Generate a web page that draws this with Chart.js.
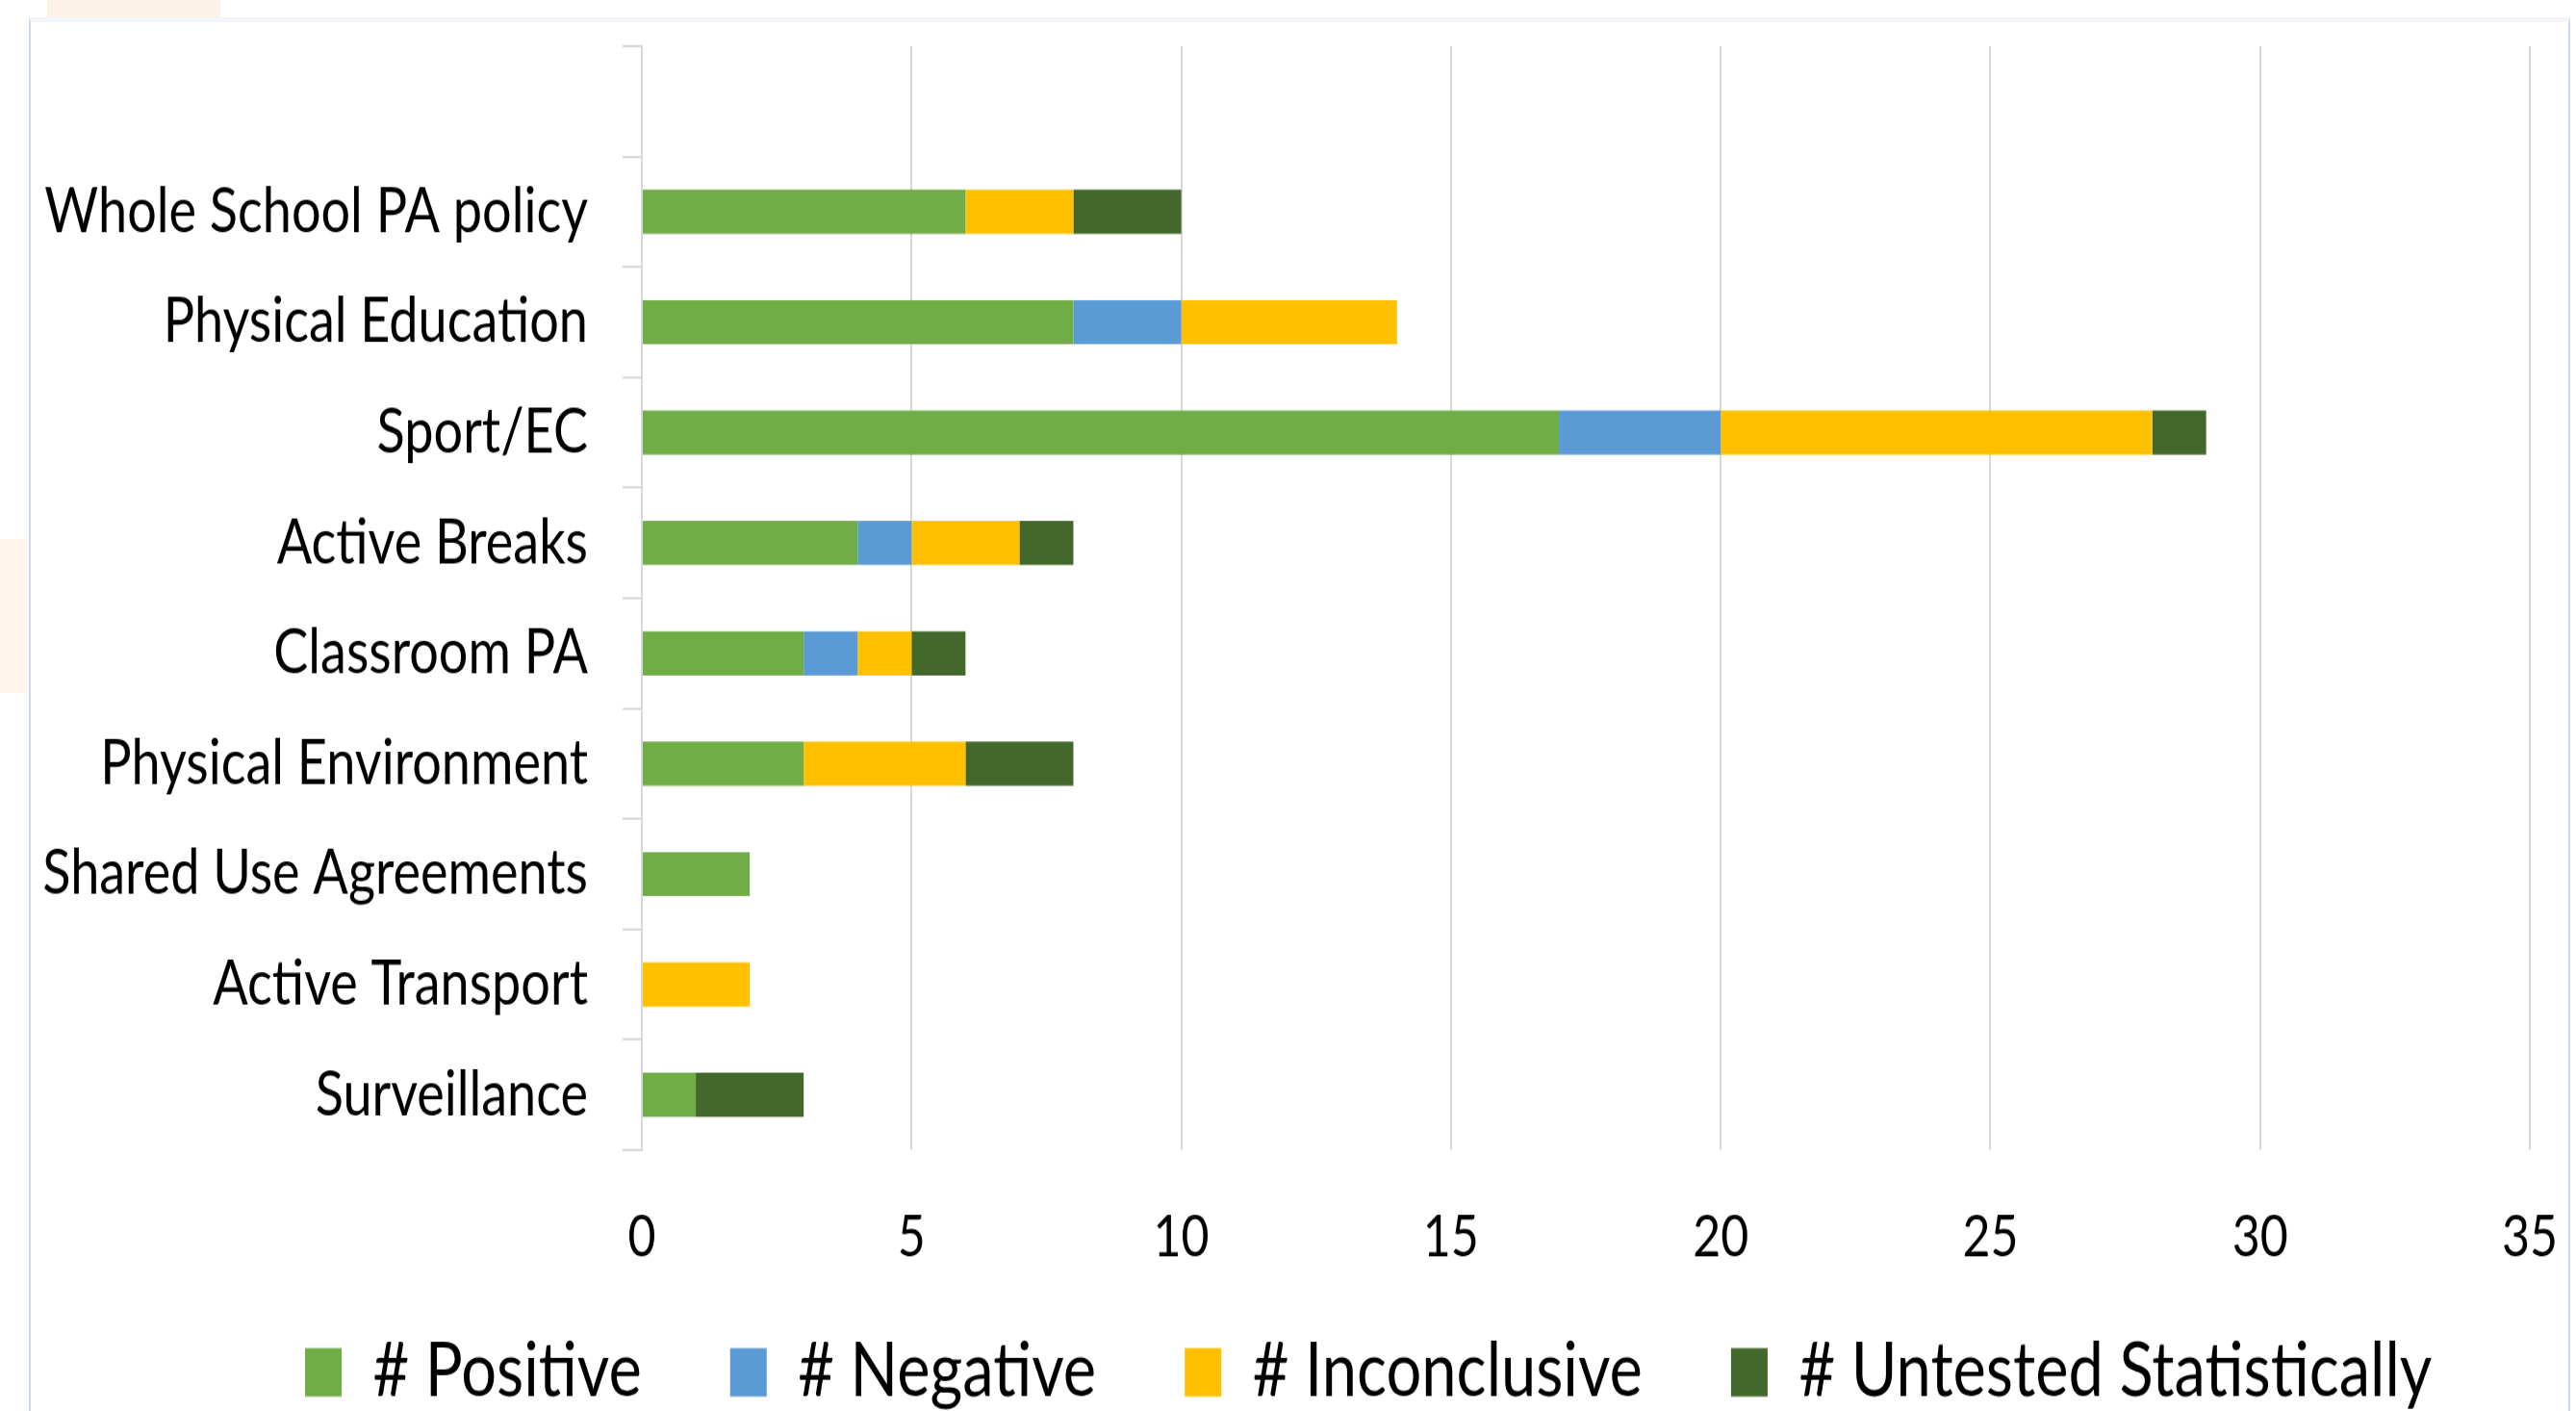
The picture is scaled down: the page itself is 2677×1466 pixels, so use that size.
<!DOCTYPE html>
<html>
<head>
<meta charset="utf-8">
<title>PA intervention outcomes</title>
<script src="https://cdn.jsdelivr.net/npm/chart.js@4.4.1/dist/chart.umd.min.js"></script>
<style>
  html, body { margin: 0; padding: 0; background: #fff; overflow: hidden; }
  body { width: 2677px; height: 1466px; position: relative; }
  .blob { position: absolute; background: #fdf2e6; }
  .blob.top { left: 49px; top: 0; width: 180px; height: 18px; }
  .blob.side { left: 0; top: 560px; width: 30px; height: 160px; opacity: 0.7; }
  .frame {
    position: absolute; left: 30px; top: 18px; width: 2641px; height: 1460px;
    border-left: 2px solid #cdd8ef; border-right: 2px solid #cdd8ef; border-top: 5px solid #f4f5fa;
    box-sizing: border-box;
  }
  /* the source picture is stretched vertically, so the chart is drawn short and scaled up */
  #wrap {
    position: absolute; left: 0; top: 0; width: 2677px; height: 1222px;
    transform: scale(1, 1.19967); transform-origin: 0 0;
  }
</style>
</head>
<body>
<div class="blob top"></div>
<div class="blob side"></div>
<div class="frame"></div>
<div id="wrap"><canvas id="chart"></canvas></div>
<script>
  // first row is an empty category, as in the source sheet
  const categories = ['', 'Whole School PA policy', 'Physical Education', 'Sport/EC', 'Active Breaks',
    'Classroom PA', 'Physical Environment', 'Shared Use Agreements', 'Active Transport', 'Surveillance'];
  const positive     = [null, 6, 8, 17, 4, 3, 3, 2, 0, 1];
  const negative     = [null, 0, 2, 3, 1, 1, 0, 0, 0, 0];
  const inconclusive = [null, 2, 4, 8, 2, 1, 3, 0, 2, 0];
  const untested     = [null, 2, 0, 1, 1, 1, 2, 0, 0, 2];
  const xTicks = [0, 5, 10, 15, 20, 25, 30, 35];

  const gridColor = '#D9D9D9';
  const fontFamily = 'Lato, "Open Sans", sans-serif';
  const legendGap = 92;

  function series(label, data, color) {
    return { label: label, data: data, backgroundColor: color, borderWidth: 0,
      barPercentage: 0.4, categoryPercentage: 1 };
  }

  // the legend sits a little right of the canvas centre and close under the axis labels
  const legendPlace = {
    id: 'legendPlace',
    afterLayout(chart) {
      const lg = chart.legend;
      const dx = (317 - legendGap) - lg.left;
      lg.left += dx;
      lg.right += dx;
      lg.top = 1156 - legendGap;
      lg.bottom = chart.height;
      lg.height = lg.bottom - lg.top;
    }
  };

  const ctx = document.getElementById('chart').getContext('2d');
  new Chart(ctx, {
    type: 'bar',
    data: {
      labels: categories,
      datasets: [
        series('# Positive', positive, '#70AD47'),
        series('# Negative', negative, '#5B9BD5'),
        series('# Inconclusive', inconclusive, '#FFC000'),
        series('# Untested Statistically', untested, '#43682B')
      ]
    },
    plugins: [legendPlace],
    options: {
      indexAxis: 'y',
      responsive: true,
      maintainAspectRatio: false,
      devicePixelRatio: 1,
      animation: false,
      layout: { padding: { left: 30, right: 48, top: 40, bottom: 0 } },
      plugins: {
        tooltip: { enabled: false },
        legend: {
          position: 'bottom',
          align: 'start',
          maxHeight: 126,
          labels: {
            boxWidth: 38,
            boxHeight: 42,
            padding: legendGap,
            color: '#000',
            font: { family: fontFamily, size: 65 }
          }
        }
      },
      scales: {
        x: {
          stacked: true,
          min: 0,
          max: 35,
          afterBuildTicks: s => { s.ticks = xTicks.map(v => ({ value: v })); },
          afterFit: s => { s.height = 100; s.paddingLeft = 0; s.paddingRight = 0; },
          border: { display: false },
          grid: { color: gridColor, lineWidth: 2, drawTicks: false },
          ticks: { color: '#000', padding: 46, font: { family: fontFamily, size: 50 } }
        },
        y: {
          stacked: true,
          afterFit: s => { s.width = 637; s.paddingTop = 0; s.paddingBottom = 0; },
          border: { color: gridColor, width: 2 },
          grid: { color: gridColor, lineWidth: 2, drawOnChartArea: false, tickLength: 20 },
          ticks: { color: '#000', padding: 36, autoSkip: false, font: { family: fontFamily, size: 54 } }
        }
      }
    }
  });
</script>
</body>
</html>
